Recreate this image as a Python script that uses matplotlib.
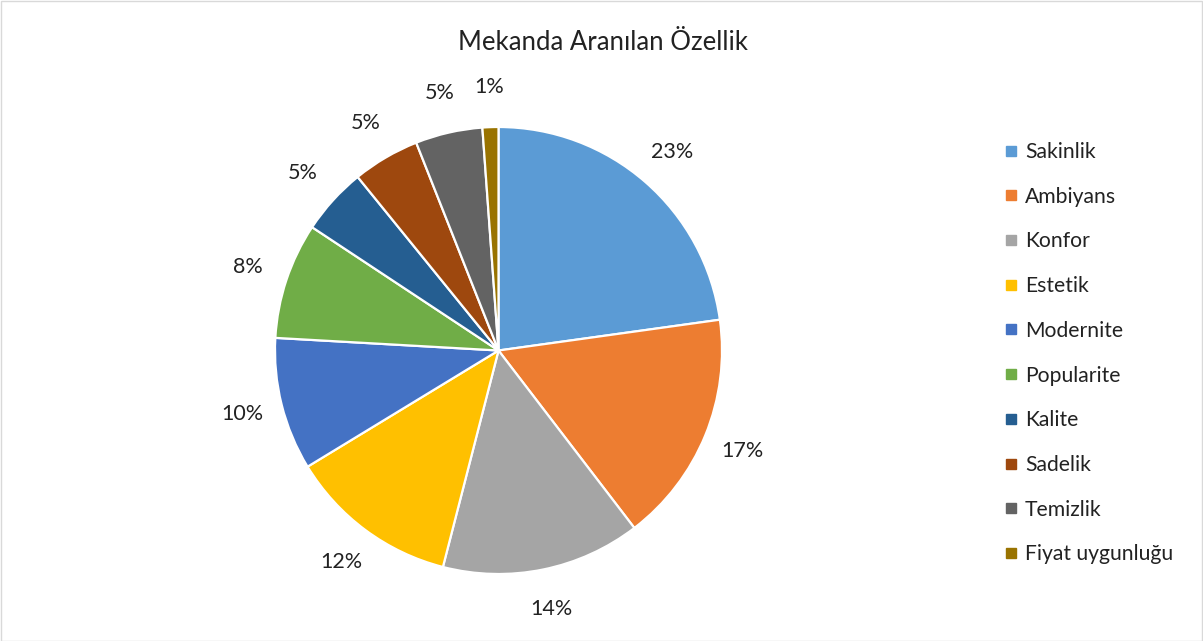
import matplotlib
matplotlib.use("Agg")
import matplotlib.pyplot as plt
from matplotlib.lines import Line2D
from matplotlib.patches import Rectangle

plt.rcParams['font.family'] = ['Lato', 'DejaVu Sans']

labels = ["Sakinlik", "Ambiyans", "Konfor", "Estetik", "Modernite",
          "Popularite", "Kalite", "Sadelik", "Temizlik", "Fiyat uygunluğu"]
values = [22.8, 16.8, 14.4, 12.3, 9.6, 8.4, 4.85, 4.85, 4.85, 1.15]
colors = ["#5B9BD5", "#ED7D31", "#A5A5A5", "#FFC000", "#4472C4",
          "#70AD47", "#255E91", "#9E480E", "#636363", "#997300"]

W, H = 1203, 641
txt = '#222222'
fig = plt.figure(figsize=(W / 100, H / 100), dpi=100)

# pie axes: centre at (498.5, 350.5) px, radius ~223.5 px
lim = 1.3
size = 2 * lim * 223.5
cx, cy = 498.5, H - 350.5
ax = fig.add_axes([(cx - size / 2) / W, (cy - size / 2) / H, size / W, size / H])

wedges, texts, autotexts = ax.pie(
    values, colors=colors, startangle=90, counterclock=False,
    autopct=lambda p: '%.0f%%' % p, pctdistance=1.18,
    wedgeprops=dict(edgecolor='white', linewidth=1.6),
    textprops=dict(fontsize=15.5, color=txt))
ax.set_xlim(-lim, lim)
ax.set_ylim(-lim, lim)
ax.set_aspect('equal')

fig.text(603 / W, 1 - 42 / H, "Mekanda Aranılan Özellik", ha='center', va='center',
         fontsize=18.5, color=txt)

handles = [Line2D([], [], marker='s', linestyle='none', markersize=6.5,
                  markerfacecolor=c, markeredgecolor=c) for c in colors]
fig.legend(handles, labels, loc='upper left', bbox_to_anchor=(987 / W, 1 - 123 / H),
           frameon=False, fontsize=15.2, labelspacing=1.17, handlelength=0.5,
           handletextpad=0.4, labelcolor=txt)

fig.patches.append(Rectangle((0.5 / W, 0.5 / H), 1 - 1.5 / W, 1 - 1.5 / H,
                             transform=fig.transFigure, fill=False,
                             edgecolor='#D9D9D9', linewidth=1))

fig.savefig("out.png", dpi=100)
